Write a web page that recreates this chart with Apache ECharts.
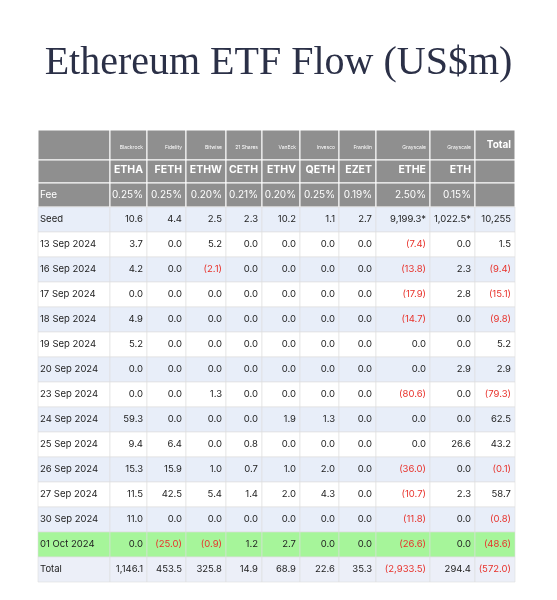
<!DOCTYPE html>
<html><head><meta charset="utf-8">
<script src="https://cdn.jsdelivr.net/npm/echarts@6/dist/echarts.min.js"></script>
<style>html,body{margin:0;padding:0;background:#fff}#c{width:557px;height:600px}</style>
</head><body><div id="c"></div>
<script>
const sponsors = ["Blackrock","Fidelity","Bitwise","21 Shares","VanEck","Invesco","Franklin","Grayscale","Grayscale"];
const tickers = ["ETHA","FETH","ETHW","CETH","ETHV","QETH","EZET","ETHE","ETH"];
const fees = ["0.25%","0.25%","0.20%","0.21%","0.20%","0.25%","0.19%","2.50%","0.15%"];
const rowLabels = ["Seed","13 Sep 2024","16 Sep 2024","17 Sep 2024","18 Sep 2024","19 Sep 2024","20 Sep 2024","23 Sep 2024","24 Sep 2024","25 Sep 2024","26 Sep 2024","27 Sep 2024","30 Sep 2024","01 Oct 2024","Total"];
const seed = [10.6,4.4,2.5,2.3,10.2,1.1,2.7,9199.3,1022.5,10255];
const seedText = ["10.6","4.4","2.5","2.3","10.2","1.1","2.7","9,199.3*","1,022.5*","10,255"];
const flows = [
  [3.7,0,5.2,0,0,0,0,-7.4,0,1.5],
  [4.2,0,-2.1,0,0,0,0,-13.8,2.3,-9.4],
  [0,0,0,0,0,0,0,-17.9,2.8,-15.1],
  [4.9,0,0,0,0,0,0,-14.7,0,-9.8],
  [5.2,0,0,0,0,0,0,0,0,5.2],
  [0,0,0,0,0,0,0,0,2.9,2.9],
  [0,0,1.3,0,0,0,0,-80.6,0,-79.3],
  [59.3,0,0,0,1.9,1.3,0,0,0,62.5],
  [9.4,6.4,0,0.8,0,0,0,0,26.6,43.2],
  [15.3,15.9,1.0,0.7,1.0,2.0,0,-36.0,0,-0.1],
  [11.5,42.5,5.4,1.4,2.0,4.3,0,-10.7,2.3,58.7],
  [11.0,0,0,0,0,0,0,-11.8,0,-0.8],
  [0,-25.0,-0.9,1.2,2.7,0,0,-26.6,0,-48.6]
];
const totals = [1146.1,453.5,325.8,14.9,68.9,22.6,35.3,-2933.5,294.4,-572.0];

// layout (table units)
const colEdges=[0,72,109,148,188,224,262,301,338,392,437,477];
const rowEdges=[0,30,53,77];
for(let i=1;i<=15;i++) rowEdges.push(77+25*i);

function fmt(v){const s=Math.abs(v).toLocaleString('en-US',{minimumFractionDigits:1,maximumFractionDigits:1});return v<0?'('+s+')':s;}

const cells=[];
for(let c=0;c<11;c++){
  cells.push({r:0,c,t:c===0?'':(c===10?'Total':sponsors[c-1]),kind:c===10?'htot':'hs'});
  cells.push({r:1,c,t:c===0||c===10?'':tickers[c-1],kind:'ht'});
  cells.push({r:2,c,t:c===0?'Fee':(c===10?'':fees[c-1]),kind:'hf'});
}
const body=[seed,...flows,totals];
body.forEach((vals,i)=>{
  const r=3+i;
  cells.push({r,c:0,t:rowLabels[i],kind:'lab',v:0});
  vals.forEach((v,j)=>cells.push({r,c:j+1,t:i===0?seedText[j]:fmt(v),kind:'num',v}));
});
const data=cells.map(o=>[o.c,o.r]);

function bg(r){ if(r<3) return '#8f8f8f'; if(r===16) return '#a6f59a'; if(r===17) return '#eceff8'; return (r-3)%2===0?'#e8eef9':'#ffffff'; }

const chart=echarts.init(document.getElementById('c'),null,{renderer:'canvas'});
chart.setOption({
  animation:false,
  title:{text:'Ethereum ETF Flow (US$m)',left:'center',top:38,textStyle:{fontFamily:'Liberation Serif',fontWeight:'normal',fontSize:40,color:'#2b3047'}},
  grid:{left:38,top:130,width:477,height:452},
  xAxis:{type:'value',min:0,max:477,show:false},
  yAxis:{type:'value',min:0,max:452,inverse:true,show:false},
  series:[{type:'custom',data,
    renderItem(params,api){
      const o=cells[params.dataIndex];
      const p0=api.coord([colEdges[o.c],rowEdges[o.r]]);
      const p1=api.coord([colEdges[o.c+1],rowEdges[o.r+1]]);
      const w=p1[0]-p0[0],h=p1[1]-p0[1];
      const header=o.r<3;
      const children=[{type:'rect',shape:{x:p0[0],y:p0[1],width:w,height:h},
        style:{fill:bg(o.r),stroke:header?'#ffffff':'#dddddd',lineWidth:header?1:0.6}}];
      let st={fontFamily:'Inter, Roboto, sans-serif',fontSize:9.5,fill:'#222'};
      let align='right',x=p1[0]-4,y=(p0[1]+p1[1])/2;
      if(o.kind==='hs'){st.fontSize=5;st.fill='#fff';y=p0[1]+17;}
      else if(o.kind==='htot'){st.fontSize=10;st.fontWeight='bold';st.fill='#fff';y=p0[1]+15;}
      else if(o.kind==='ht'){st.fontSize=10.5;st.fontWeight='bold';st.fill='#fff';y=p0[1]+10;}
      else if(o.kind==='hf'){st.fontSize=10;st.fill='#fff';if(o.c===0){align='left';x=p0[0]+2;}}
      else if(o.kind==='lab'){align='left';x=p0[0]+2;}
      else if(o.v<0){st.fill='#e8322b';}
      if(o.t) children.push({type:'text',style:Object.assign(st,{text:o.t,x,y,textAlign:align,textVerticalAlign:'middle'})});
      return {type:'group',children};
    }}]
});
</script></body></html>
